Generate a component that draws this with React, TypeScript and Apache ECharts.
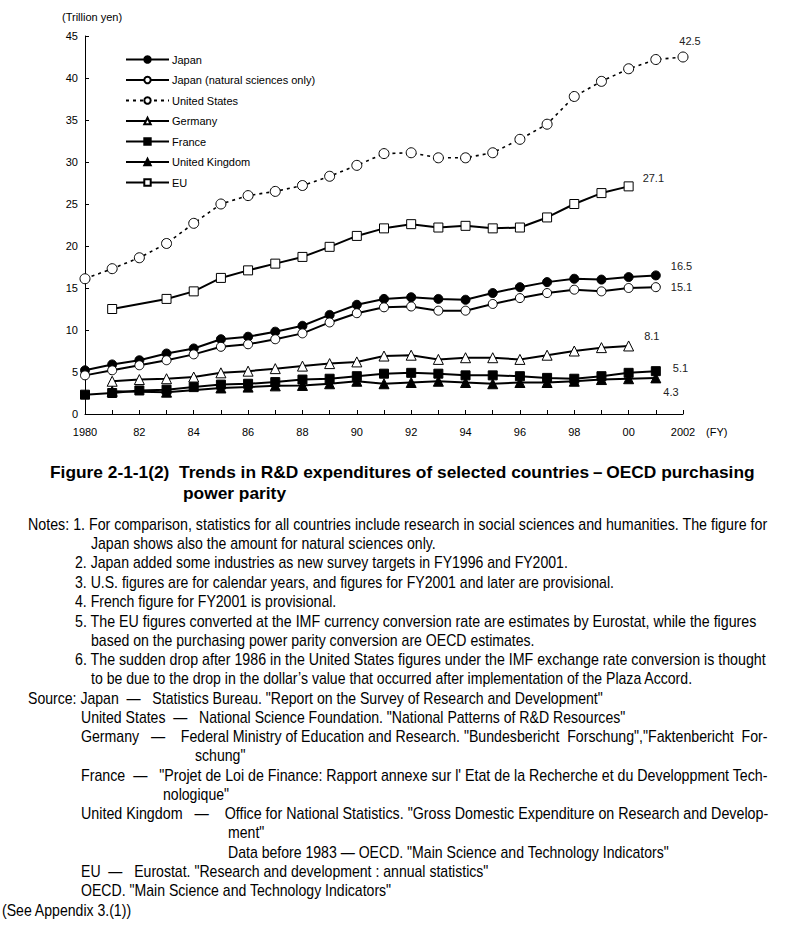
import React, { useEffect, useRef } from "react";
import * as echarts from "echarts";

const years = ["1980","1981","1982","1983","1984","1985","1986","1987","1988","1989","1990","1991","1992","1993","1994","1995","1996","1997","1998","1999","2000","2001","2002"];

const japan = [5.2, 5.9, 6.4, 7.2, 7.8, 8.9, 9.2, 9.8, 10.5, 11.8, 13.0, 13.7, 13.9, 13.7, 13.6, 14.4, 15.1, 15.7, 16.1, 16.0, 16.3, 16.5, null];
const japanNS = [4.6, 5.2, 5.8, 6.4, 7.1, 8.0, 8.3, 8.9, 9.6, 10.9, 12.0, 12.7, 12.8, 12.3, 12.3, 13.1, 13.8, 14.4, 14.8, 14.6, 15.0, 15.1, null];
const unitedStates = [16.1, 17.3, 18.6, 20.3, 22.7, 25.0, 26.0, 26.5, 27.2, 28.3, 29.6, 31.0, 31.1, 30.5, 30.5, 31.1, 32.7, 34.5, 37.8, 39.6, 41.1, 42.2, 42.5];
const germany = [null, 3.9, 4.1, 4.2, 4.4, 4.9, 5.1, 5.4, 5.7, 6.0, 6.2, 6.9, 7.0, 6.5, 6.7, 6.7, 6.5, 7.0, 7.5, 7.9, 8.1, null, null];
const france = [2.3, 2.5, 2.8, 2.9, 3.2, 3.5, 3.6, 3.8, 4.1, 4.2, 4.5, 4.8, 4.9, 4.8, 4.6, 4.6, 4.5, 4.3, 4.2, 4.5, 4.9, 5.1, null];
const unitedKingdom = [null, 2.7, null, 2.6, null, 3.1, 3.2, 3.35, 3.4, 3.6, 3.9, 3.6, 3.75, 3.9, 3.75, 3.6, 3.75, 3.75, 3.9, 4.1, 4.2, 4.3, null];
const eu = [null, 12.5, null, 13.7, 14.6, 16.2, 17.1, 17.9, 18.7, 19.9, 21.2, 22.1, 22.6, 22.2, 22.4, 22.1, 22.2, 23.4, 25.0, 26.3, 27.1, null, null];

const seriesNames = ["Japan", "Japan (natural sciences only)", "United States", "Germany", "France", "United Kingdom", "EU"];

const FONT = "'Liberation Sans', Arial, sans-serif";

const titleLine1 = "Figure 2-1-1(2)  Trends in R&D expenditures of selected countries\uFF0DOECD purchasing";
const titleLine2 = "power parity";

// [x, y, text, right edge if justified (0 = natural)]
const noteLines: [number, number, string, number][] = [
  [28, 524, "Notes: 1. For comparison, statistics for all countries include research in social sciences and humanities. The figure for", 768],
  [91, 543, "Japan shows also the amount for natural sciences only.", 0],
  [75, 562, "2. Japan added some industries as new survey targets in FY1996 and FY2001.", 0],
  [75, 582, "3. U.S. figures are for calendar years, and figures for FY2001 and later are provisional.", 0],
  [75, 601, "4. French figure for FY2001 is provisional.", 0],
  [75, 621, "5. The EU figures converted at the IMF currency conversion rate are estimates by Eurostat, while the figures", 757],
  [91, 640, "based on the purchasing power parity conversion are OECD estimates.", 0],
  [75, 659, "6. The sudden drop after 1986 in the United States figures under the IMF exchange rate conversion is thought", 767],
  [91, 678, "to be due to the drop in the dollar\u2019s value that occurred after implementation of the Plaza Accord.", 0],
  [28, 698, "Source: Japan  \u2014   Statistics Bureau. \"Report on the Survey of Research and Development\"", 0],
  [81, 717, "United States  \u2014   National Science Foundation. \"National Patterns of R&D Resources\"", 0],
  [81, 736, "Germany   \u2014    Federal Ministry of Education and Research. \"Bundesbericht  Forschung\",\"Faktenbericht  For-", 768],
  [195, 755, "schung\"", 0],
  [81, 775, "France  \u2014   \"Projet de Loi de Finance: Rapport annexe sur l' Etat de la Recherche et du Developpment Tech-", 769],
  [163, 794, "nologique\"", 0],
  [81, 813, "United Kingdom   \u2014    Office for National Statistics. \"Gross Domestic Expenditure on Research and Develop-", 769],
  [228, 832, "ment\"", 0],
  [228, 852, "Data before 1983 \u2014 OECD. \"Main Science and Technology Indicators\"", 0],
  [81, 871, "EU  \u2014   Eurostat. \"Research and development : annual statistics\"", 0],
  [81, 890, "OECD. \"Main Science and Technology Indicators\"", 0],
  [2, 910, "(See Appendix 3.(1))", 0],
];

function measure(text: string, font: string): number {
  const ctx = document.createElement("canvas").getContext("2d");
  if (!ctx) return text.length * 7;
  ctx.font = font;
  return ctx.measureText(text).width;
}

function withEndLabel(arr: (number | null)[], idx: number, position: string, offset: number[]) {
  return arr.map((v, i) =>
    i === idx
      ? { value: v, label: { show: true, position, offset, formatter: String(v), fontSize: 11, color: "#222", fontFamily: FONT } }
      : v
  );
}

export default function App() {
  const ref = useRef<HTMLDivElement>(null);
  useEffect(() => {
    if (!ref.current) return;
    const chart = echarts.init(ref.current, null, { renderer: "svg" });
    const base = (name: string, data: any[], symbol: string, size: number, filled: boolean, extra: any = {}) => ({
      name,
      type: "line",
      data,
      symbol,
      symbolSize: size,
      connectNulls: true,
      showAllSymbol: true,
      lineStyle: { color: "#000", width: 2 },
      itemStyle: { color: filled ? "#000" : "#fff", borderColor: "#000", borderWidth: 1 },
      emphasis: { disabled: true },
      ...extra,
    });
    const noteFont = `16px ${FONT}`;
    const titleFont = `bold 17px ${FONT}`;
    const titleScale = (755 - 50) / measure(titleLine1, titleFont);
    const graphics: any[] = [
      { type: "text", left: 62, top: 11, style: { text: "(Trillion yen)", font: `11px ${FONT}`, fill: "#000" } },
      { type: "text", x: 706, y: 432, style: { text: "(FY)", font: `11px ${FONT}`, fill: "#000", verticalAlign: "middle" } },
      { type: "text", x: 50, y: 472, scaleX: titleScale, style: { text: titleLine1, font: titleFont, fill: "#000", verticalAlign: "middle" } },
      { type: "text", x: 183, y: 493, scaleX: titleScale, style: { text: titleLine2, font: titleFont, fill: "#000", verticalAlign: "middle" } },
      ...noteLines.map(([x, y, t, right]) => {
        const sx = right > 0 ? (right - x) / measure(t, noteFont) : 0.88;
        return {
          type: "text", x, y, scaleX: sx,
          style: { text: t, font: noteFont, fill: "#000", verticalAlign: "middle" },
        };
      }),
    ];
    chart.setOption({
      animation: false,
      backgroundColor: "#fff",
      textStyle: { fontFamily: FONT },
      grid: { left: 85, top: 36, width: 598, height: 378, containLabel: false },
      legend: {
        orient: "vertical",
        left: 120,
        top: 49,
        itemWidth: 43,
        itemHeight: 8,
        itemGap: 9.5,
        data: seriesNames,
        textStyle: { fontSize: 11, color: "#000", fontFamily: FONT, padding: [0, 0, 0, -2] },
        selectedMode: false,
      },
      xAxis: {
        type: "category",
        data: years,
        boundaryGap: false,
        axisLine: { lineStyle: { color: "#000", width: 1 } },
        axisTick: { inside: true, length: 4, interval: 0, lineStyle: { color: "#000" } },
        axisLabel: {
          interval: 1,
          margin: 12,
          fontSize: 11,
          color: "#000",
          fontFamily: FONT,
          formatter: (v: string) => (v === "1980" || v === "2002" ? v : v.slice(2)),
        },
        splitLine: { show: false },
      },
      yAxis: {
        type: "value",
        min: 0,
        max: 45,
        interval: 5,
        axisLine: { show: true, lineStyle: { color: "#000", width: 1 } },
        axisTick: { show: true, inside: true, length: 4, lineStyle: { color: "#000" } },
        axisLabel: { margin: 7, fontSize: 11, color: "#000", fontFamily: FONT },
        splitLine: { show: false },
      },
      graphic: graphics,
      series: [
        base("Japan", withEndLabel(japan, 21, "right", [5, -9]), "circle", 9, true),
        base("Japan (natural sciences only)", withEndLabel(japanNS, 21, "right", [5, 0]), "circle", 9, false),
        base("United States", withEndLabel(unitedStates, 22, "top", [7, 0]), "circle", 10, false, {
          lineStyle: { color: "#000", width: 1.6, type: [3, 4] },
        }),
        base("Germany", withEndLabel(germany, 20, "right", [5, -10]), "triangle", 10, false),
        base("France", withEndLabel(france, 21, "right", [7, -3]), "rect", 9, true),
        base("United Kingdom", withEndLabel(unitedKingdom, 21, "right", [-3, 14]), "triangle", 10, true),
        base("EU", withEndLabel(eu, 20, "right", [4, -8]), "rect", 9, false),
      ],
    });
    return () => chart.dispose();
  }, []);
  return (
    <div
      ref={ref}
      style={{ position: "absolute", left: 0, top: 0, width: 800, height: 927, background: "#fff" }}
    />
  );
}
